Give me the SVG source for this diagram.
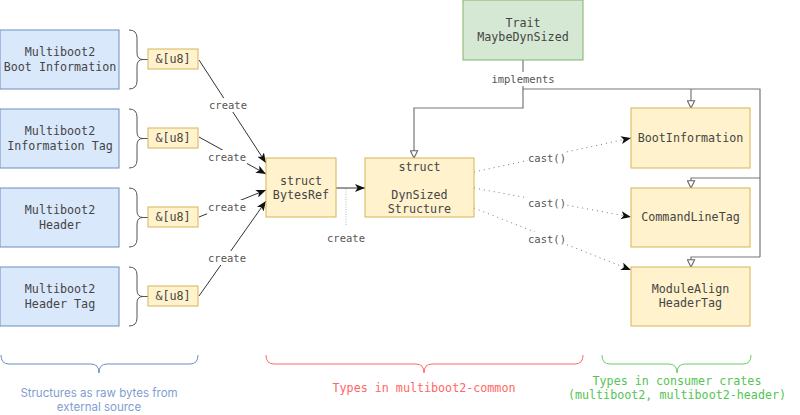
<svg xmlns="http://www.w3.org/2000/svg" width="800" height="415" viewBox="0 0 800 415">
<defs>
<style>
.blue{fill:#dae8fc;stroke:#6c8ebf;stroke-width:1}
.yel{fill:#fff2cc;stroke:#d6b656;stroke-width:1}
.grn{fill:#d5e8d4;stroke:#82b366;stroke-width:1}
.t{font-family:"DejaVu Sans Mono","Liberation Mono",monospace;font-size:11.7px;fill:#454545;text-anchor:middle;dominant-baseline:central}
.lb{font-family:"DejaVu Sans Mono","Liberation Mono",monospace;font-size:10.5px;fill:#555;text-anchor:middle;dominant-baseline:central}
.brace{fill:none;stroke:#555;stroke-width:1}
.cr{fill:none;stroke:#333;stroke-width:1;marker-end:url(#arr)}
.cast{fill:none;stroke:#777;stroke-width:1;stroke-dasharray:1 4;marker-end:url(#arr)}
.impl{fill:none;stroke:#777;stroke-width:1.2}
.implA{fill:none;stroke:#777;stroke-width:1.2;marker-end:url(#tri)}
.bg{fill:#fff}
</style>
<marker id="arr" viewBox="0 0 10 8" refX="10" refY="4" markerWidth="10" markerHeight="8" markerUnits="userSpaceOnUse" orient="auto">
<path d="M0,0 L10,4 L0,8 L2.5,4 z" fill="#111"/>
</marker>
<marker id="tri" viewBox="0 0 10 10" refX="9" refY="5" markerWidth="9" markerHeight="9" markerUnits="userSpaceOnUse" orient="auto">
<path d="M1,1 L9,5 L1,9 z" fill="#fff" stroke="#666" stroke-width="1.2"/>
</marker>
</defs>
<rect width="800" height="415" fill="#fff"/>

<g id="connectors">
<path class="cr" d="M199,60 L266,163"/>
<path class="cr" d="M199,137 L266,174"/>
<path class="cr" d="M199,217 L266,190"/>
<path class="cr" d="M199,296 L266,201"/>
<path class="cr" d="M336,188 L365,188"/>
<path d="M346,189 L346,226" fill="none" stroke="#bbb" stroke-width="1" stroke-dasharray="1 1.5"/>
<path class="cast" d="M474,172 L631,138"/>
<path class="cast" d="M474,188 L631,217"/>
<path class="cast" d="M474,208 L631,270"/>
<path class="impl" d="M523,60 L523,89 L760,89 L760,257"/>
<path class="implA" d="M523,89 L523,108 L414,108 L414,158"/>
<path class="implA" d="M691,89 L691,108"/>
<path class="implA" d="M760,178 L691,178 L691,188"/>
<path class="implA" d="M760,257 L691,257 L691,267"/>
<rect class="bg" x="208" y="98" width="40" height="14"/>
<text class="lb" x="228" y="105">create</text>
<rect class="bg" x="207" y="150" width="40" height="14"/>
<text class="lb" x="227" y="157">create</text>
<rect class="bg" x="207" y="200" width="40" height="14"/>
<text class="lb" x="227" y="207">create</text>
<rect class="bg" x="207" y="251" width="40" height="14"/>
<text class="lb" x="227" y="258">create</text>
<text class="lb" x="346" y="238">create</text>
<rect class="bg" x="490" y="72" width="66" height="14"/>
<text class="lb" x="523" y="79">implements</text>
<rect class="bg" x="528" y="151" width="38" height="14"/>
<text class="lb" x="547" y="158">cast()</text>
<rect class="bg" x="528" y="196" width="38" height="14"/>
<text class="lb" x="547" y="203">cast()</text>
<rect class="bg" x="528" y="232" width="38" height="14"/>
<text class="lb" x="547" y="239">cast()</text>
</g>

<g id="mb2-boot-info">
<rect class="blue" x="0" y="30" width="119" height="59"/>
<text class="t" x="60" y="52">Multiboot2</text>
<text class="t" x="60" y="67">Boot Information</text>
</g>
<g id="mb2-info-tag">
<rect class="blue" x="0" y="109" width="119" height="59"/>
<text class="t" x="60" y="131">Multiboot2</text>
<text class="t" x="60" y="146">Information Tag</text>
</g>
<g id="mb2-header">
<rect class="blue" x="0" y="188" width="119" height="59"/>
<text class="t" x="60" y="210">Multiboot2</text>
<text class="t" x="60" y="225">Header</text>
</g>
<g id="mb2-header-tag">
<rect class="blue" x="0" y="267" width="119" height="59"/>
<text class="t" x="60" y="289">Multiboot2</text>
<text class="t" x="60" y="304">Header Tag</text>
</g>

<g id="braces-left">
<path class="brace" d="M129,30 Q137,30 137,38 L137,53 Q137,59.5 143,59.5 L148,59.5 M143,59.5 Q137,59.5 137,66 L137,81 Q137,89 129,89"/>
<path class="brace" d="M129,109 Q137,109 137,117 L137,132 Q137,138.5 143,138.5 L148,138.5 M143,138.5 Q137,138.5 137,145 L137,160 Q137,168 129,168"/>
<path class="brace" d="M129,188 Q137,188 137,196 L137,211 Q137,217.5 143,217.5 L148,217.5 M143,217.5 Q137,217.5 137,224 L137,239 Q137,247 129,247"/>
<path class="brace" d="M129,267 Q137,267 137,275 L137,290 Q137,296.5 143,296.5 L148,296.5 M143,296.5 Q137,296.5 137,303 L137,318 Q137,326 129,326"/>
</g>

<g id="u8-1"><rect class="yel" x="148" y="49" width="50" height="20"/><text class="t" x="173" y="59">&amp;[u8]</text></g>
<g id="u8-2"><rect class="yel" x="148" y="128" width="50" height="20"/><text class="t" x="173" y="138">&amp;[u8]</text></g>
<g id="u8-3"><rect class="yel" x="148" y="207" width="50" height="20"/><text class="t" x="173" y="217">&amp;[u8]</text></g>
<g id="u8-4"><rect class="yel" x="148" y="286" width="50" height="20"/><text class="t" x="173" y="296">&amp;[u8]</text></g>

<g id="bytesref">
<rect class="yel" x="266" y="158" width="70" height="59"/>
<text class="t" x="301" y="181">struct</text>
<text class="t" x="301" y="195">BytesRef</text>
</g>
<g id="dynsized">
<rect class="yel" x="365" y="158" width="109" height="59"/>
<text class="t" x="419.5" y="167">struct</text>
<text class="t" x="419.5" y="195">DynSized</text>
<text class="t" x="419.5" y="209">Structure</text>
</g>
<g id="trait">
<rect class="grn" x="463" y="0" width="120" height="60"/>
<text class="t" x="523" y="23">Trait</text>
<text class="t" x="523" y="37">MaybeDynSized</text>
</g>
<g id="bootinfo">
<rect class="yel" x="631" y="108" width="119" height="60"/>
<text class="t" x="690.5" y="138">BootInformation</text>
</g>
<g id="cmdline">
<rect class="yel" x="631" y="188" width="119" height="59"/>
<text class="t" x="690.5" y="217">CommandLineTag</text>
</g>
<g id="modalign">
<rect class="yel" x="631" y="267" width="119" height="59"/>
<text class="t" x="690.5" y="289">ModuleAlign</text>
<text class="t" x="690.5" y="303">HeaderTag</text>
</g>

<g id="group-raw">
<path d="M1,355 Q1,364 9,364 L91,364 Q99,364 99,373 Q99,364 107,364 L190,364 Q198,364 198,355" fill="none" stroke="#6c8ebf" stroke-width="1"/>
<text x="99" y="393" font-family="Inter,Roboto,sans-serif" font-size="11.5" fill="#7f9dd0" text-anchor="middle" dominant-baseline="central">Structures as raw bytes from</text>
<text x="99" y="407" font-family="Inter,Roboto,sans-serif" font-size="11.5" fill="#7f9dd0" text-anchor="middle" dominant-baseline="central">external source</text>
</g>
<g id="group-common">
<path d="M266,355 Q266,364 274,364 L416,364 Q424,364 424,373 Q424,364 432,364 L575,364 Q583,364 583,355" fill="none" stroke="#ff6666" stroke-width="1"/>
<text class="t" x="424" y="388" style="fill:#ff6666">Types in multiboot2-common</text>
</g>
<g id="group-consumer">
<path d="M602,355 Q602,364 610,364 L669,364 Q677,364 677,373 Q677,364 685,364 L743,364 Q751,364 751,355" fill="none" stroke="#66cc66" stroke-width="1"/>
<text class="t" x="677" y="381" style="fill:#55c455">Types in consumer crates</text>
<text class="t" x="677" y="395" style="fill:#55c455">(multiboot2, multiboot2-header)</text>
</g>
</svg>
